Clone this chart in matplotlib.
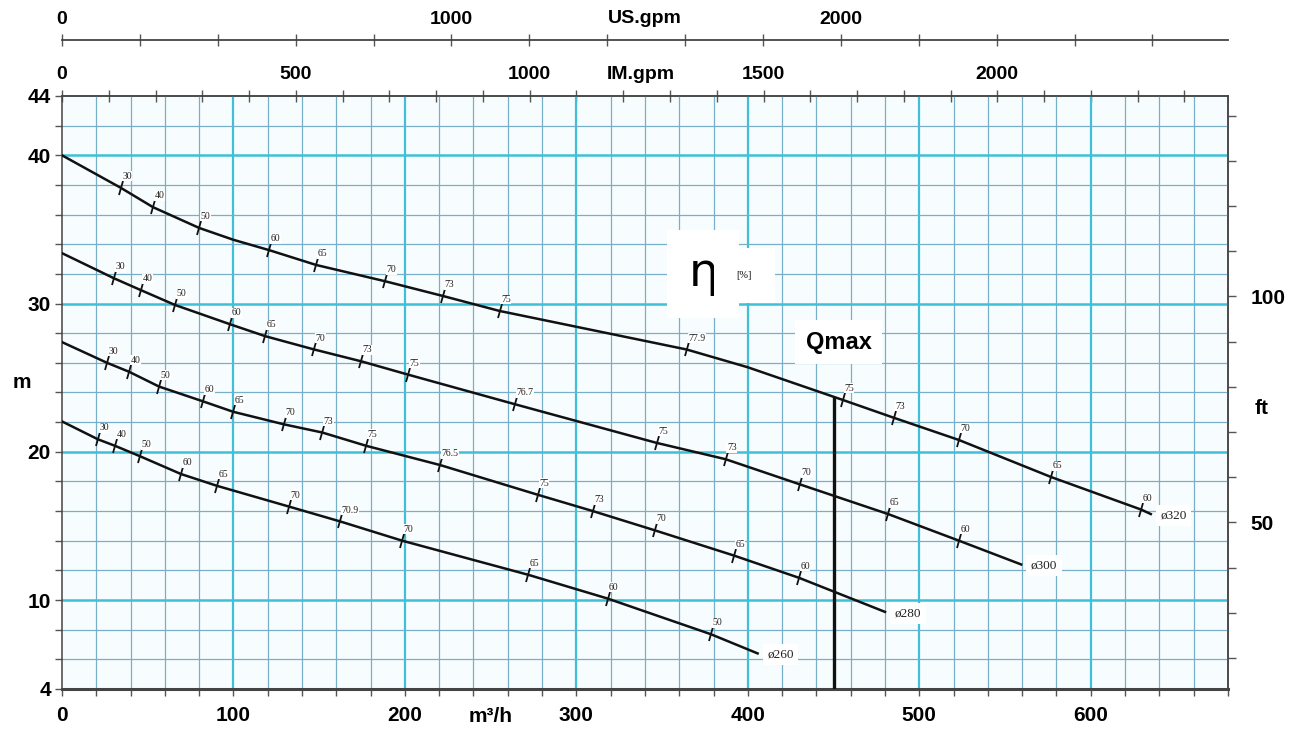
import numpy as np
import matplotlib.pyplot as plt
from matplotlib.markers import MarkerStyle
from matplotlib.transforms import Affine2D
from matplotlib.ticker import FixedLocator, FuncFormatter

plt.rcParams['font.family'] = ['Liberation Sans', 'DejaVu Sans']
plt.rcParams['font.weight'] = 'bold'

# head curves: flow in m3/h, head in m
q_320 = [0, 34.4, 53.1, 80, 100, 120.9, 148.3, 188.6, 222.5, 255.2, 364.3, 400, 455.3, 485, 523, 576.8, 629.4, 635]
h_320 = [40, 37.8, 36.5, 35.1, 34.3, 33.6, 32.6, 31.5, 30.5, 29.5, 26.9, 25.7, 23.5, 22.3, 20.8, 18.3, 16.1, 15.8]
q_300 = [0, 30.4, 46.1, 66, 98.1, 118.5, 147.1, 174.6, 202, 264.4, 346.8, 387, 430.4, 481.8, 523.2, 559.4]
h_300 = [33.4, 31.7, 30.9, 29.9, 28.6, 27.8, 26.9, 26.1, 25.2, 23.2, 20.6, 19.5, 17.8, 15.8, 14.0, 12.4]
q_280 = [0, 26.3, 39.1, 56.6, 82.3, 99.8, 129.5, 151.8, 177.5, 220.7, 277.5, 309.6, 345.8, 391.9, 429.8, 480]
h_280 = [27.4, 26.0, 25.4, 24.4, 23.4, 22.7, 21.85, 21.3, 20.4, 19.1, 17.1, 16.0, 14.7, 13.0, 11.5, 9.2]
q_260 = [0, 21.0, 31.0, 45.5, 69.4, 90.5, 132.5, 162.3, 198.5, 272, 318.2, 378.3, 405.7]
h_260 = [22.05, 20.84, 20.4, 19.7, 18.5, 17.7, 16.3, 15.3, 14.0, 11.7, 10.1, 7.7, 6.4]

# efficiency marks along each curve
eq_320 = [34.4, 53.1, 80, 120.9, 148.3, 188.6, 222.5, 255.2, 364.3, 455.3, 485, 523, 576.8, 629.4]
ev_320 = ['30', '40', '50', '60', '65', '70', '73', '75', '77.9', '75', '73', '70', '65', '60']
eq_300 = [30.4, 46.1, 66, 98.1, 118.5, 147.1, 174.6, 202, 264.4, 346.8, 387, 430.4, 481.8, 523.2]
ev_300 = ['30', '40', '50', '60', '65', '70', '73', '75', '76.7', '75', '73', '70', '65', '60']
eq_280 = [26.3, 39.1, 56.6, 82.3, 99.8, 129.5, 151.8, 177.5, 220.7, 277.5, 309.6, 345.8, 391.9, 429.8]
ev_280 = ['30', '40', '50', '60', '65', '70', '73', '75', '76.5', '75', '73', '70', '65', '60']
eq_260 = [21.0, 31.0, 45.5, 69.4, 90.5, 132.5, 162.3, 198.5, 272, 318.2, 378.3]
ev_260 = ['30', '40', '50', '60', '65', '70', '70.9', '70', '65', '60', '50']

curves = [
    ('ø320', q_320, h_320, eq_320, ev_320),
    ('ø300', q_300, h_300, eq_300, ev_300),
    ('ø280', q_280, h_280, eq_280, ev_280),
    ('ø260', q_260, h_260, eq_260, ev_260),
]
q_max = 450

fig = plt.figure(figsize=(12.99, 7.30), dpi=100)
ax = fig.add_axes([0.0477, 0.0562, 0.8976, 0.8123])
ax.set_xlim(0, 680)
ax.set_ylim(4, 44)
ax.set_facecolor('#f7fdfe')

# grid
thin = '#78afc8'
bold = '#3fc0d8'
for q in range(20, 680, 20):
    if q % 100:
        ax.axvline(q, color=thin, lw=0.9, zorder=1)
    else:
        ax.axvline(q, color=bold, lw=1.6, zorder=1)
for h in range(6, 44, 2):
    if h % 10:
        ax.axhline(h, color=thin, lw=0.9, zorder=1)
    else:
        ax.axhline(h, color=bold, lw=1.8, zorder=1)

tick_mark = MarkerStyle('|', transform=Affine2D().rotate_deg(-18))
for name, q, h, eq, ev in curves:
    ax.plot(q, h, color='#111111', lw=1.8, zorder=4)
    eh = np.interp(eq, q, h)
    ax.plot(eq, eh, ls='none', marker=tick_mark, ms=10, mew=1.3, color='#111111', zorder=5)
    for xq, yh, lab in zip(eq, eh, ev):
        ax.annotate(lab, (xq, yh), xytext=(1, 5), textcoords='offset points',
                    ha='left', va='bottom', fontsize=7, fontweight='normal',
                    family=['Liberation Serif', 'DejaVu Serif'], color='#222222', zorder=6,
                    bbox=dict(boxstyle='square,pad=0.05', fc='white', ec='none'))
    ax.annotate(name, (q[-1], h[-1]), xytext=(7, -1), textcoords='offset points',
                ha='left', va='center', fontsize=9.5, fontweight='normal',
                family=['Liberation Serif', 'DejaVu Serif'], color='#222222', zorder=6,
                bbox=dict(boxstyle='square,pad=0.35', fc='white', ec='none'))

# Qmax line
ax.vlines(q_max, 4, np.interp(q_max, q_320, h_320), color='#111111', lw=2.4, zorder=5)
ax.text(453, 27.4, 'Qmax', fontsize=17, ha='center', va='center', zorder=6,
        bbox=dict(boxstyle='square,pad=0.45', fc='white', ec='none'))
ax.text(374, 32.0, 'η', fontsize=34, fontweight='normal', family='DejaVu Sans',
        ha='center', va='center', zorder=6,
        bbox=dict(boxstyle='square,pad=0.45', fc='white', ec='none'))
ax.text(398, 31.9, '[%]', fontsize=7.5, fontweight='normal',
        family=['Liberation Serif', 'DejaVu Serif'], ha='center', va='center', zorder=7,
        bbox=dict(boxstyle='square,pad=2.2', fc='white', ec='none'))

# spines
for s in ['left', 'top', 'right']:
    ax.spines[s].set_color('#444444')
    ax.spines[s].set_linewidth(1.1)
ax.spines['bottom'].set_color('#444444')
ax.spines['bottom'].set_linewidth(2.2)

# bottom axis (m3/h)
ax.set_xticks(range(0, 700, 100))
ax.set_xticks(range(0, 681, 20), minor=True)
ax.tick_params(axis='x', which='both', direction='out', length=5, width=1, color='#555555',
               labelsize=15, pad=7)
ax.text(250, -0.046, 'm³/h', transform=ax.get_xaxis_transform(), fontsize=15,
        ha='center', va='center')

# left axis (m)
ax.yaxis.set_major_locator(FixedLocator([4, 10, 20, 30, 40, 44]))
ax.yaxis.set_minor_locator(FixedLocator(range(4, 45, 2)))
ax.tick_params(axis='y', which='both', direction='out', length=5, width=1, color='#555555',
               labelsize=15, pad=3)
ax.text(-0.034, 24.7, 'm', transform=ax.get_yaxis_transform(), fontsize=15,
        ha='center', va='center')

# right axis (ft)
ft = ax.secondary_yaxis('right', functions=(lambda m: m / 0.3048, lambda f: f * 0.3048))
ft.yaxis.set_major_locator(FixedLocator(range(20, 150, 10)))
ft.yaxis.set_major_formatter(FuncFormatter(lambda v, p: f'{v:.0f}' if round(v) in (50, 100) else ''))
ft.tick_params(direction='out', length=6, width=1, color='#555555', labelsize=15, pad=10)
ft.spines['right'].set_linewidth(1.1)
ft.spines['right'].set_color('#444444')
ax.text(1.029, 22.9, 'ft', transform=ax.get_yaxis_transform(), fontsize=15,
        ha='center', va='center')

# top axes (IM.gpm and US.gpm)
im = ax.secondary_xaxis('top', functions=(lambda q: q * 3.6662, lambda g: g / 3.6662))
im.xaxis.set_major_locator(FixedLocator(range(0, 2500, 100)))
im.xaxis.set_major_formatter(FuncFormatter(lambda v, p: f'{v:.0f}' if round(v) % 500 == 0 else ''))
im.tick_params(direction='inout', length=8, width=1, color='#555555', labelsize=14, pad=5)
im.spines['top'].set_linewidth(1.1)
im.spines['top'].set_color('#444444')
ax.text(337.5, 1.036, 'IM.gpm', transform=ax.get_xaxis_transform(), fontsize=14,
        ha='center', va='center')

us = ax.secondary_xaxis(1.0944, functions=(lambda q: q * 4.4029, lambda g: g / 4.4029))
us.xaxis.set_major_locator(FixedLocator(range(0, 3000, 200)))
us.xaxis.set_major_formatter(FuncFormatter(lambda v, p: f'{v:.0f}' if round(v) % 1000 == 0 else ''))
us.tick_params(direction='inout', length=8, width=1, color='#555555', labelsize=14, pad=5)
us.spines['top'].set_linewidth(1.3)
us.spines['top'].set_color('#444444')
ax.text(340, 1.131, 'US.gpm', transform=ax.get_xaxis_transform(), fontsize=14,
        ha='center', va='center')

fig.savefig('out.png', dpi=100, facecolor='white')
